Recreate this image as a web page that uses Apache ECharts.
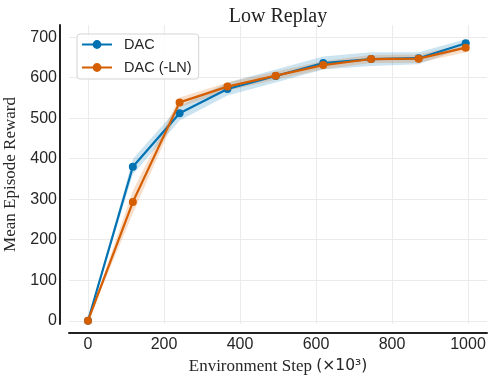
<!DOCTYPE html>
<html>
<head>
<meta charset="utf-8">
<script src="https://cdn.jsdelivr.net/npm/echarts@6/dist/echarts.min.js"></script>
<style>
  html, body { margin: 0; padding: 0; background: #fff; }
  #chart { width: 495px; height: 388px; }
</style>
</head>
<body>
<div id="chart"></div>
<script>
const steps = [0, 118, 241, 367, 494, 619, 745, 870, 994];
const dacMean = [0, 380, 512, 572, 604, 636, 646, 648, 685];
const dacLow = [0, 361, 494, 556, 588, 620, 629, 633, 675];
const dacHigh = [0, 399, 530, 588, 620, 652, 663, 663, 695];
const lnMean = [0, 293, 539, 578, 605, 631, 646, 647, 674];
const lnLow = [0, 265, 527, 568, 595, 621, 636, 637, 663];
const lnHigh = [0, 321, 551, 588, 615, 641, 656, 657, 683];

const BLUE = "#0072B2";
const ORANGE = "#D55E00";
const INK = "#262626";

const pairs = (ys) => steps.map((x, i) => [x, ys[i]]);

// shaded spread: one polygon, upper edge forward then lower edge back
function band(lo, hi, color) {
  return {
    type: "custom", data: [[steps[0], lo[0]]], silent: true, z: 1,
    renderItem: (params, api) => {
      const top = steps.map((x, i) => api.coord([x, hi[i]]));
      const bot = steps.map((x, i) => api.coord([x, lo[i]])).reverse();
      return {
        type: "polygon",
        shape: { points: top.concat(bot) },
        style: { fill: color, opacity: 0.2 },
      };
    },
  };
}

function meanLine(name, ys, color, z) {
  return {
    name: name, type: "line", data: pairs(ys), z: z,
    color: color, symbol: "circle", symbolSize: 8,
    lineStyle: { width: 2.2, color: color },
    itemStyle: { color: color },
  };
}

const chart = echarts.init(document.getElementById("chart"));
chart.setOption({
  animation: false,
  title: {
    text: "Low Replay", left: 278, top: 7, padding: 0, textAlign: "center",
    textStyle: { fontFamily: "Liberation Serif", fontSize: 20, fontWeight: "normal", color: "#222" },
  },
  legend: {
    data: ["DAC", "DAC (-LN)"], orient: "vertical", left: 77, top: 34,
    padding: [2, 7, 3, 4], itemGap: 6, itemWidth: 30, itemHeight: 11,
    borderColor: "#d4d4d4", borderWidth: 1, borderRadius: 3,
    backgroundColor: "rgba(255,255,255,0.85)",
    textStyle: { fontFamily: "Liberation Sans", fontSize: 14.5, color: INK, lineHeight: 17, padding: [0, 0, 0, 7] },
  },
  grid: { left: 69, right: 8, top: 25, bottom: 64, containLabel: false, outerBoundsMode: "none" },
  xAxis: {
    type: "value", min: -50, max: 1050, minInterval: 200, maxInterval: 200, offset: 9,
    name: "{s|Environment Step }{m|(×10³)}", nameLocation: "middle", nameGap: 24,
    nameTextStyle: {
      color: INK,
      rich: {
        s: { fontFamily: "Liberation Serif", fontSize: 17, color: INK },
        m: { fontFamily: "DejaVu Sans", fontSize: 15.5, color: INK },
      },
    },
    axisLine: { onZero: false, lineStyle: { color: "#222", width: 2 } },
    axisTick: { show: false },
    axisLabel: { showMinLabel: false, showMaxLabel: false, margin: 4,
      formatter: (v) => String(v),
      fontFamily: "Liberation Sans", fontSize: 16, color: INK },
    splitLine: { show: true, showMinLine: false, showMaxLine: false, lineStyle: { color: "#ebebeb", width: 1 } },
  },
  yAxis: {
    type: "value", min: -8, max: 730, minInterval: 100, maxInterval: 100, offset: 9,
    name: "Mean Episode Reward", nameLocation: "middle", nameGap: 37,
    nameTextStyle: { fontFamily: "Liberation Serif", fontSize: 17, color: INK },
    axisLine: { show: true, onZero: false, lineStyle: { color: "#222", width: 2 } },
    axisTick: { show: false },
    axisLabel: { showMinLabel: false, showMaxLabel: false, margin: 3,
      formatter: (v) => String(v),
      fontFamily: "Liberation Sans", fontSize: 16, color: INK },
    splitLine: { show: true, showMinLine: false, showMaxLine: false, lineStyle: { color: "#ebebeb", width: 1 } },
  },
  series: [
    band(dacLow, dacHigh, BLUE),
    band(lnLow, lnHigh, ORANGE),
    meanLine("DAC", dacMean, BLUE, 3),
    meanLine("DAC (-LN)", lnMean, ORANGE, 4),
  ],
});
</script>
</body>
</html>
